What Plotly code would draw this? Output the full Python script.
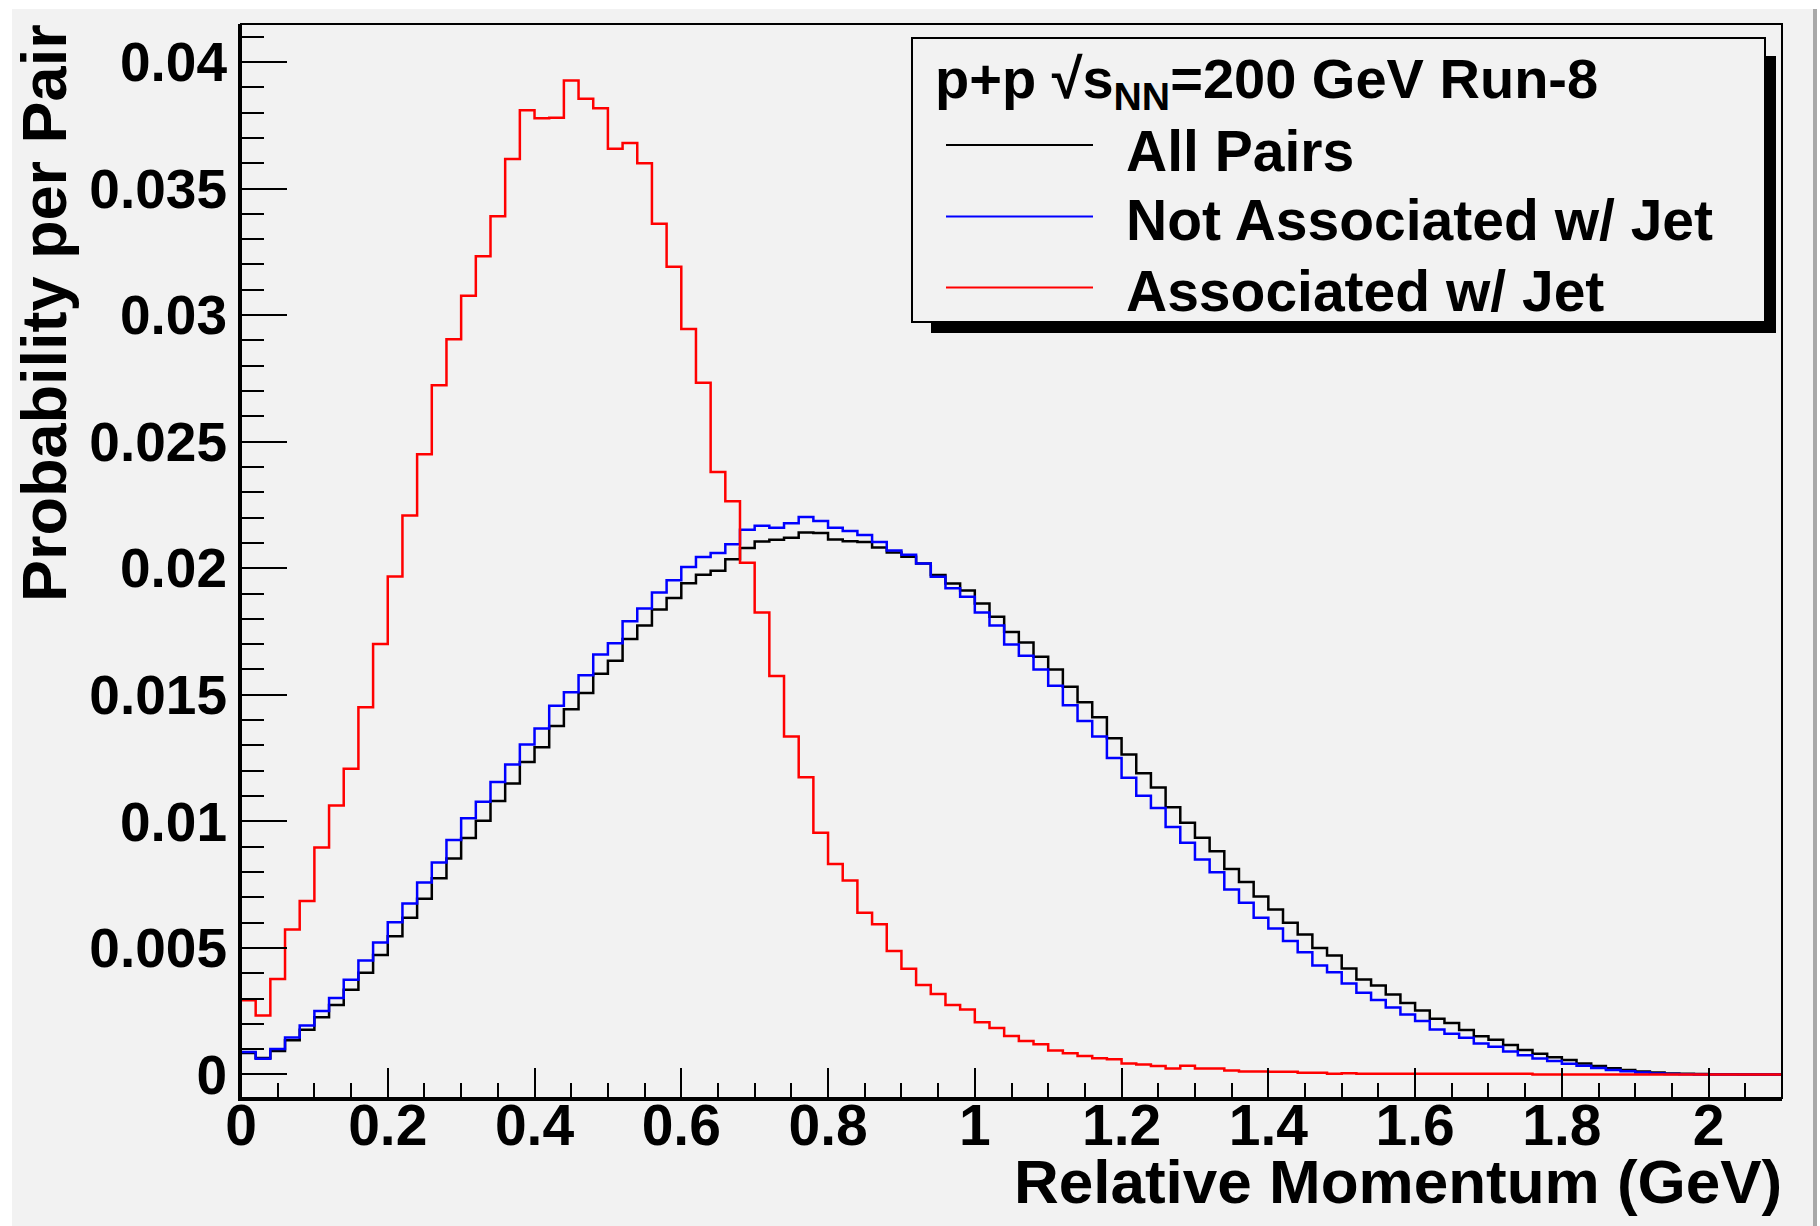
import numpy as np
import plotly.graph_objects as go

# ---------------- data ----------------
bin_width = 0.02
n_bins = 105

all_pairs = [
    0.00085, 0.00065, 0.00093, 0.00135, 0.00177, 0.00226, 0.00274, 0.00335, 0.00402, 0.00472,
    0.00546, 0.00619, 0.00694, 0.00775, 0.00853, 0.00934, 0.01002, 0.01080, 0.01149, 0.01234,
    0.01293, 0.01377, 0.01443, 0.01507, 0.01583, 0.01634, 0.01720, 0.01774, 0.01837, 0.01882,
    0.01941, 0.01974, 0.01990, 0.02035, 0.02080, 0.02106, 0.02112, 0.02120, 0.02141, 0.02139,
    0.02113, 0.02107, 0.02104, 0.02082, 0.02062, 0.02045, 0.02019, 0.01973, 0.01940, 0.01912,
    0.01861, 0.01808, 0.01748, 0.01707, 0.01650, 0.01600, 0.01532, 0.01470, 0.01411, 0.01328,
    0.01264, 0.01190, 0.01134, 0.01056, 0.00994, 0.00935, 0.00882, 0.00812, 0.00760, 0.00703,
    0.00652, 0.00599, 0.00553, 0.00500, 0.00470, 0.00419, 0.00375, 0.00351, 0.00316, 0.00282,
    0.00253, 0.00220, 0.00203, 0.00176, 0.00151, 0.00137, 0.00116, 0.00097, 0.00082, 0.00068,
    0.00057, 0.00043, 0.00033, 0.00025, 0.00018, 0.00012, 0.00008, 0.00004, 0.00003, 0.00002,
    0.00001, 0.00001, 0.0, 0.0, 0.0,
]

not_associated = [
    0.00089, 0.00062, 0.00101, 0.00146, 0.00193, 0.00251, 0.00302, 0.00374, 0.00450, 0.00521,
    0.00601, 0.00675, 0.00758, 0.00837, 0.00926, 0.01012, 0.01077, 0.01155, 0.01225, 0.01304,
    0.01367, 0.01457, 0.01510, 0.01577, 0.01659, 0.01704, 0.01790, 0.01841, 0.01904, 0.01952,
    0.02005, 0.02044, 0.02060, 0.02095, 0.02152, 0.02168, 0.02160, 0.02178, 0.02202, 0.02187,
    0.02160, 0.02147, 0.02131, 0.02104, 0.02070, 0.02053, 0.02019, 0.01966, 0.01921, 0.01887,
    0.01825, 0.01774, 0.01699, 0.01654, 0.01600, 0.01536, 0.01459, 0.01396, 0.01335, 0.01250,
    0.01172, 0.01101, 0.01053, 0.00978, 0.00915, 0.00849, 0.00799, 0.00731, 0.00678, 0.00619,
    0.00577, 0.00527, 0.00483, 0.00430, 0.00404, 0.00359, 0.00323, 0.00294, 0.00265, 0.00237,
    0.00211, 0.00178, 0.00161, 0.00145, 0.00122, 0.00109, 0.00091, 0.00076, 0.00063, 0.00053,
    0.00042, 0.00034, 0.00026, 0.00018, 0.00013, 0.00008, 0.00004, 0.00002, 0.00001, 0.0,
    0.0, 0.0, 0.0, 0.0, 0.0,
]

associated = [
    0.00293, 0.00233, 0.00377, 0.00573, 0.00685, 0.00897, 0.01063, 0.01208, 0.01451, 0.01701,
    0.01967, 0.02208, 0.02450, 0.02723, 0.02905, 0.03076, 0.03232, 0.03390, 0.03617, 0.03809,
    0.03778, 0.03780, 0.03927, 0.03855, 0.03817, 0.03657, 0.03680, 0.03600, 0.03361, 0.03191,
    0.02945, 0.02733, 0.02380, 0.02265, 0.02022, 0.01825, 0.01574, 0.01335, 0.01174, 0.00955,
    0.00831, 0.00766, 0.00639, 0.00593, 0.00488, 0.00418, 0.00353, 0.00318, 0.00274, 0.00257,
    0.00206, 0.00184, 0.00152, 0.00132, 0.00119, 0.00095, 0.00084, 0.00073, 0.00064, 0.00060,
    0.00043, 0.00039, 0.00033, 0.00024, 0.00034, 0.00024, 0.00024, 0.00016, 0.00012, 0.00012,
    0.00011, 0.00011, 0.00007, 0.00007, 0.00003, 0.00005, 0.00003, 0.00003, 0.00003, 0.00003,
    0.00003, 0.00003, 0.00003, 0.00003, 0.00003, 0.00003, 0.00003, 0.00003, 0.0, 0.0,
    0.0, 0.0, 0.0, 0.0, 0.0, 0.0, 0.0, 0.0, 0.0, 0.0,
    0.0, 0.0, 0.0, 0.0, 0.0,
]

series_names = ["All Pairs", "Not Associated w/ Jet", "Associated w/ Jet"]
series_colors = ["#000000", "#0000ff", "#ff0000"]

x_tick_vals = [0, 0.2, 0.4, 0.6, 0.8, 1.0, 1.2, 1.4, 1.6, 1.8, 2.0]
x_tick_text = ["0", "0.2", "0.4", "0.6", "0.8", "1", "1.2", "1.4", "1.6", "1.8", "2"]
y_tick_vals = [0, 0.005, 0.01, 0.015, 0.02, 0.025, 0.03, 0.035, 0.04]
y_tick_text = ["0", "0.005", "0.01", "0.015", "0.02", "0.025", "0.03", "0.035", "0.04"]

legend_title = "p+p \u221as<sub>NN</sub>=200 GeV Run-8"
x_title = "Relative Momentum (GeV)"
y_title = "Probability per Pair"

# ---------------- layout geometry ----------------
W, H = 1820, 1226
ML, MR, MT, MB = 241, 38, 24, 128
PW, PH = W - ML - MR, H - MT - MB
FONT = "Liberation Sans"
BG = "#f2f2f2"


def px(xp):
    return (xp - ML) / PW


def py(yp):
    return (H - MB - yp) / PH


edges = np.arange(n_bins + 1) * bin_width

fig = go.Figure()
for vals, name, col in zip([all_pairs, not_associated, associated], series_names, series_colors):
    yv = list(vals) + [vals[-1]]
    fig.add_trace(go.Scatter(
        x=edges, y=yv, mode="lines", line=dict(color=col, width=2.5, shape="hv"),
        name=name, showlegend=False, hoverinfo="skip",
    ))

shapes = []
# canvas background
shapes.append(dict(type="rect", xref="paper", yref="paper", x0=px(12), x1=px(1813), y0=py(9), y1=py(1226),
                   fillcolor=BG, line=dict(width=0), layer="below"))
shapes.append(dict(type="line", xref="paper", yref="paper", x0=px(1815), x1=px(1815), y0=py(9), y1=py(1226),
                   line=dict(color="#a8a8a8", width=4), layer="below"))
# frame
shapes.append(dict(type="rect", xref="paper", yref="paper", x0=0, x1=1, y0=0, y1=1,
                   line=dict(color="black", width=2), fillcolor="rgba(0,0,0,0)"))
# legend shadow and box
shapes.append(dict(type="rect", xref="paper", yref="paper", x0=px(931), x1=px(1776), y0=py(333), y1=py(56),
                   fillcolor="black", line=dict(width=0)))
shapes.append(dict(type="rect", xref="paper", yref="paper", x0=px(912), x1=px(1765), y0=py(322), y1=py(38),
                   fillcolor=BG, line=dict(color="black", width=2)))

legend_line_y = [145, 216.5, 287.5]
legend_text_y = [151, 220, 291]
annotations = []
for name, col, ly, ty in zip(series_names, series_colors, legend_line_y, legend_text_y):
    shapes.append(dict(type="line", xref="paper", yref="paper", x0=px(946), x1=px(1093), y0=py(ly), y1=py(ly),
                       line=dict(color=col, width=2)))
    annotations.append(dict(text=name, xref="paper", yref="paper", x=px(1124), y=py(ty),
                            xanchor="left", yanchor="middle", showarrow=False,
                            font=dict(family=FONT, size=57, color="black", weight="bold")))

annotations.append(dict(text=legend_title, xref="paper", yref="paper", x=px(933), y=py(83),
                        xanchor="left", yanchor="middle", showarrow=False,
                        font=dict(family=FONT, size=56, color="black", weight="bold")))
annotations.append(dict(text=x_title, xref="paper", yref="paper", x=px(1784), y=py(1181),
                        xanchor="right", yanchor="middle", showarrow=False,
                        font=dict(family=FONT, size=62, color="black", weight="bold")))
annotations.append(dict(text=y_title, xref="paper", yref="paper", x=px(44), y=py(22),
                        xanchor="center", yanchor="top", textangle=-90, showarrow=False,
                        font=dict(family=FONT, size=63, color="black", weight="bold")))

fig.update_layout(
    width=W, height=H,
    margin=dict(l=ML, r=MR, t=MT, b=MB, pad=0),
    paper_bgcolor="white", plot_bgcolor=BG,
    shapes=shapes, annotations=annotations,
    showlegend=False,
)
fig.update_xaxes(
    range=[0, 2.1], showgrid=False, zeroline=False,
    showline=True, linecolor="black", linewidth=3,
    ticks="inside", ticklen=30, tickwidth=2, tickcolor="black",
    tickmode="array", tickvals=x_tick_vals, ticktext=x_tick_text,
    tickfont=dict(family=FONT, size=57, color="black", weight="bold"),
    ticklabelstandoff=-24,
    minor=dict(ticks="inside", ticklen=15, tickwidth=2, tickcolor="black", tickmode="linear", tick0=0, dtick=0.05),
)
fig.update_yaxes(
    range=[-0.00093, 0.0415], showgrid=False, zeroline=False,
    showline=True, linecolor="black", linewidth=3,
    ticks="inside", ticklen=46, tickwidth=2, tickcolor="black",
    tickmode="array", tickvals=y_tick_vals, ticktext=y_tick_text,
    tickfont=dict(family=FONT, size=55, color="black", weight="bold"),
    ticklabelstandoff=0,
    minor=dict(ticks="inside", ticklen=23, tickwidth=2, tickcolor="black", tickmode="linear", tick0=0, dtick=0.001),
)

fig.write_html("out.html")
